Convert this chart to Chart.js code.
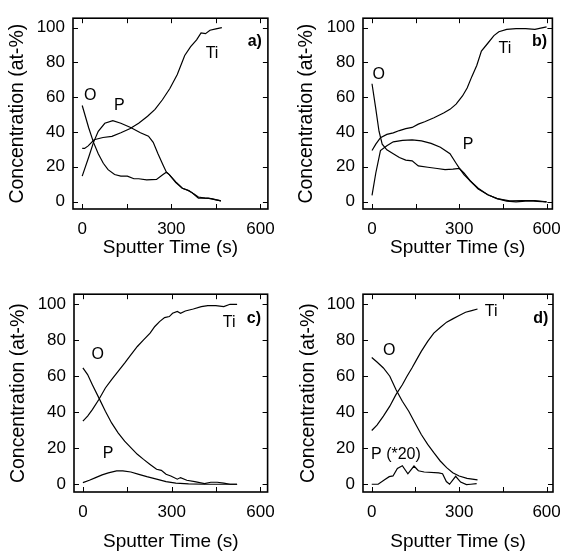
<!DOCTYPE html>
<html>
<head>
<meta charset="utf-8">
<script src="https://cdn.jsdelivr.net/npm/chart.js@4.4.0/dist/chart.umd.min.js"></script>
<style>
  html, body { margin: 0; padding: 0; background: #fff; }
  #wrap { position: relative; width: 571px; height: 553px; overflow: hidden; }
  canvas { position: absolute; }
</style>
</head>
<body>
<div id="wrap">
  <canvas id="ca" width="285" height="276" style="left:0;top:0"></canvas>
  <canvas id="cb" width="286" height="276" style="left:285px;top:0"></canvas>
  <canvas id="cc" width="285" height="277" style="left:0;top:276px"></canvas>
  <canvas id="cd" width="286" height="277" style="left:285px;top:276px"></canvas>
</div>
<script>
// ---------- tick values ----------
const yTickValues = [0, 20, 40, 60, 80, 100];
const xLabelValues = [0, 300, 600];
const xTickMarkValues = [0, 150, 300, 450, 600];

// ---------- panel a ----------
const aTiTime = [0, 8, 20, 40, 70, 100, 130, 160, 190, 220, 245, 270, 295, 320, 345, 365, 385, 400, 415, 430, 450, 470];
const aTiConc = [30.5, 30.5, 32, 35.5, 36.8, 37.5, 39.5, 41.8, 45, 49, 53, 58.5, 65, 73, 84, 89, 93, 97, 96.5, 98.5, 99.3, 100];
const aOTime = [0, 22, 38, 54, 71, 87, 109, 130, 152, 174, 190, 217, 250, 272, 283, 293, 315, 337, 359, 375, 391, 413, 435, 467];
const aOConc = [55.2, 42.3, 34, 27.5, 22, 18.3, 15.5, 14.6, 14.6, 13.1, 13.1, 12.4, 12.7, 15.5, 16.8, 15.5, 10.9, 7.6, 6.3, 4.4, 2.6, 2, 1.7, 0.4];
const aPTime = [0, 22, 38, 54, 76, 103, 130, 163, 196, 223, 239, 255, 272, 283, 293, 315, 337, 353, 370, 391, 424, 446, 467];
const aPConc = [14.6, 25.6, 34, 40.4, 45, 46.5, 45, 42.6, 39.5, 37.6, 34, 27.5, 21, 17, 15.5, 11.3, 7.6, 6.6, 5, 2, 2, 1.1, 0.4];

// ---------- panel b ----------
const bTiTime = [0, 13, 29, 51, 73, 94, 116, 138, 159, 181, 213, 246, 268, 289, 311, 327, 343, 360, 376, 398, 419, 436, 463, 495, 528, 560, 600];
const bTiConc = [29.3, 33, 36.7, 38.6, 39.5, 40.8, 41.9, 42.6, 44.5, 45.9, 48.2, 50.9, 53, 56, 60.7, 65.3, 71.8, 78.2, 86.5, 91, 95.4, 97.6, 99, 99.4, 99.4, 99, 100.4];
const bOTime = [0, 13, 24, 35, 51, 73, 94, 116, 138, 159, 192, 224, 251, 278, 300, 316, 338, 365, 398, 430, 473, 517, 560, 600];
const bOConc = [67.7, 53.3, 40.4, 33, 29.7, 27.5, 25.3, 23.8, 23.4, 20.5, 19.7, 19, 18.3, 18.6, 19, 16.4, 11.8, 7.2, 3.9, 1.7, 0.4, 0.6, 0.6, -0.2];
const bPTime = [0, 13, 29, 51, 73, 105, 138, 170, 203, 235, 268, 289, 300, 316, 338, 365, 398, 430, 463, 495, 538, 600];
const bPConc = [3.5, 16.4, 29.3, 32, 34.3, 35.2, 35.4, 34.9, 33.4, 31.2, 27.5, 22, 19.2, 15.5, 11.8, 7.6, 3.9, 1.7, 0.2, -0.2, 0.4, -0.2];

// ---------- panel c ----------
const cTiTime = [0, 16, 32, 54, 76, 97, 119, 141, 162, 184, 205, 227, 243, 259, 276, 292, 303, 319, 330, 346, 373, 400, 422, 449, 476, 497, 521];
const cTiConc = [35, 37.8, 41.4, 47, 53.4, 58, 62.6, 67.2, 71.8, 76.4, 80.1, 83.8, 87.5, 90.2, 92.4, 93, 94.8, 95.8, 94.8, 96.1, 97.2, 98.5, 99.1, 99.1, 98.5, 99.8, 99.8];
const cOTime = [0, 16, 32, 54, 76, 97, 119, 141, 162, 184, 205, 227, 249, 265, 281, 297, 319, 330, 351, 378, 411, 432, 454, 476, 497, 521];
const cOConc = [64.5, 60.8, 55.2, 47.9, 40.5, 34, 28.5, 23.9, 20.3, 16.6, 13.8, 11, 8.3, 7.7, 5.5, 4.6, 2.8, 3.7, 2.2, 1.5, 0.4, 1.1, 1.1, 0.6, 0, 0];
const cPTime = [0, 22, 43, 65, 86, 114, 135, 162, 189, 216, 249, 281, 314, 357, 411, 521];
const cPConc = [0.9, 2.2, 3.7, 5.2, 6.3, 7.4, 7.4, 6.8, 5.5, 4.2, 2.8, 1.5, 0.6, 0.2, 0, 0];

// ---------- panel d ----------
const dTiTime = [0, 18, 40, 62, 83, 105, 121, 138, 154, 170, 192, 213, 235, 257, 278, 300, 322, 343, 363];
const dTiConc = [29.8, 32.8, 37.8, 43.3, 49.7, 55.2, 59.9, 64.5, 69.1, 73.7, 79.2, 83.8, 86.9, 89.9, 91.7, 93.6, 95.4, 96.3, 97.2];
const dOTime = [0, 18, 40, 62, 83, 105, 127, 148, 170, 192, 213, 235, 257, 278, 300, 327, 363];
const dOConc = [70.3, 67.8, 64.5, 59.9, 52.5, 46, 40.5, 34.1, 27.6, 22.1, 17.5, 12.9, 9.2, 6.4, 4.6, 3.3, 2.4];
const dPTime = [0, 22, 44, 60, 73, 88, 105, 124, 145, 160, 180, 230, 243, 256, 267, 288, 305, 325, 340, 360];
const dPConc = [0, 0, 2.5, 4.2, 4.6, 8.8, 10.3, 5.8, 10.1, 7.5, 6.8, 6.3, 5.8, 1.5, 0, 4.4, 1.2, -0.2, 0, 0.3];

// ---------- curve labels (text, time, concentration) ----------
const aLabels = [["O", 27, 61], ["P", 125, 55], ["Ti", 437, 85], ["a)", 581, 92, true]];
const bLabels = [["O", 23, 73], ["P", 330, 33], ["Ti", 457, 88], ["b)", 576, 92, true]];
const cLabels = [["O", 50, 72], ["P", 85, 17], ["Ti", 494, 89.5], ["c)", 578, 92, true]];
const dLabels = [["O", 60, 74], ["P (*20)", 83, 16.6], ["Ti", 410, 95.5], ["d)", 580, 92, true]];

const FONT = '"Liberation Sans", Arial, Helvetica, sans-serif';

const pairs = (t, c) => t.map((v, i) => ({ x: v, y: c[i] }));

const framePlugin = {
  id: 'frame',
  afterDraw(chart, args, opts) {
    const { ctx, chartArea: a } = chart;
    const xs = chart.scales.x, ys = chart.scales.y;
    ctx.save();
    ctx.strokeStyle = '#000';
    ctx.lineWidth = 1;
    const L = 5;
    ctx.beginPath();
    xTickMarkValues.forEach(v => {
      const p = Math.round(xs.getPixelForValue(v)) + 0.5;
      ctx.moveTo(p, a.bottom); ctx.lineTo(p, a.bottom - L);
      ctx.moveTo(p, a.top); ctx.lineTo(p, a.top + L);
    });
    yTickValues.forEach(v => {
      const p = Math.round(ys.getPixelForValue(v)) + 0.5;
      ctx.moveTo(a.left, p); ctx.lineTo(a.left + L, p);
      ctx.moveTo(a.right, p); ctx.lineTo(a.right - L, p);
    });
    ctx.stroke();
    ctx.lineWidth = 1.6;
    ctx.strokeRect(a.left, a.top, a.right - a.left, a.bottom - a.top);
    ctx.fillStyle = '#000';
    ctx.textAlign = 'center';
    ctx.textBaseline = 'middle';
    (opts.labels || []).forEach(([txt, vx, vy, bold]) => {
      ctx.font = (bold ? 'bold ' : '') + '16px ' + FONT;
      ctx.fillText(txt, xs.getPixelForValue(vx), ys.getPixelForValue(vy));
    });
    ctx.restore();
  }
};

function makePanel(id, series, labels, lay) {
  const datasets = series.map(([t, c]) => ({
    data: pairs(t, c),
    borderColor: '#000',
    borderWidth: 1.2,
    pointRadius: 0,
    tension: 0,
    fill: false
  }));
  new Chart(document.getElementById(id), {
    type: 'line',
    data: { datasets },
    plugins: [framePlugin],
    options: {
      responsive: false,
      animation: false,
      devicePixelRatio: 1,
      layout: { padding: { left: 0, top: lay.top, right: lay.right, bottom: 0 } },
      plugins: {
        legend: { display: false },
        tooltip: { enabled: false },
        frame: { labels }
      },
      scales: {
        x: {
          type: 'linear',
          min: lay.xmin, max: lay.xmax,
          grid: { display: false, drawTicks: false },
          border: { display: false },
          afterBuildTicks: s => { s.ticks = xLabelValues.map(v => ({ value: v })); },
          afterFit: s => { s.height = lay.xh; },
          ticks: { color: '#000', padding: 10, maxRotation: 0, font: { family: FONT, size: 17 } },
          title: { display: true, text: 'Sputter Time (s)', color: '#000',
                   font: { family: FONT, size: 19 }, padding: { top: 0, bottom: lay.xtp } }
        },
        y: {
          type: 'linear',
          min: -4.3, max: 105.4,
          grid: { display: false, drawTicks: false },
          border: { display: false },
          afterBuildTicks: s => { s.ticks = yTickValues.map(v => ({ value: v })); },
          afterFit: s => { s.width = lay.yw; },
          ticks: { color: '#000', padding: 8, font: { family: FONT, size: 17 } },
          title: { display: true, text: 'Concentration (at-%)', color: '#000',
                   font: { family: FONT, size: 19.5 }, padding: { top: lay.ytp, bottom: 0 } }
        }
      }
    }
  });
}

makePanel('ca', [[aTiTime, aTiConc], [aOTime, aOConc], [aPTime, aPConc]], aLabels,
  { top: 11, right: 9, yw: 73, xh: 67, xmin: -31, xmax: 625, ytp: 6, xtp: 16.4 });
makePanel('cb', [[bTiTime, bTiConc], [bOTime, bOConc], [bPTime, bPConc]], bLabels,
  { top: 11, right: 8, yw: 78, xh: 67, xmin: -31, xmax: 620, ytp: 10, xtp: 16.4 });
makePanel('cc', [[cTiTime, cTiConc], [cOTime, cOConc], [cPTime, cPConc]], cLabels,
  { top: 18, right: 9, yw: 74, xh: 61, xmin: -30, xmax: 624, ytp: 7, xtp: 0 });
makePanel('cd', [[dTiTime, dTiConc], [dOTime, dOConc], [dPTime, dPConc]], dLabels,
  { top: 18, right: 7, yw: 78, xh: 61, xmin: -30, xmax: 622, ytp: 12, xtp: 0 });
</script>
</body>
</html>
